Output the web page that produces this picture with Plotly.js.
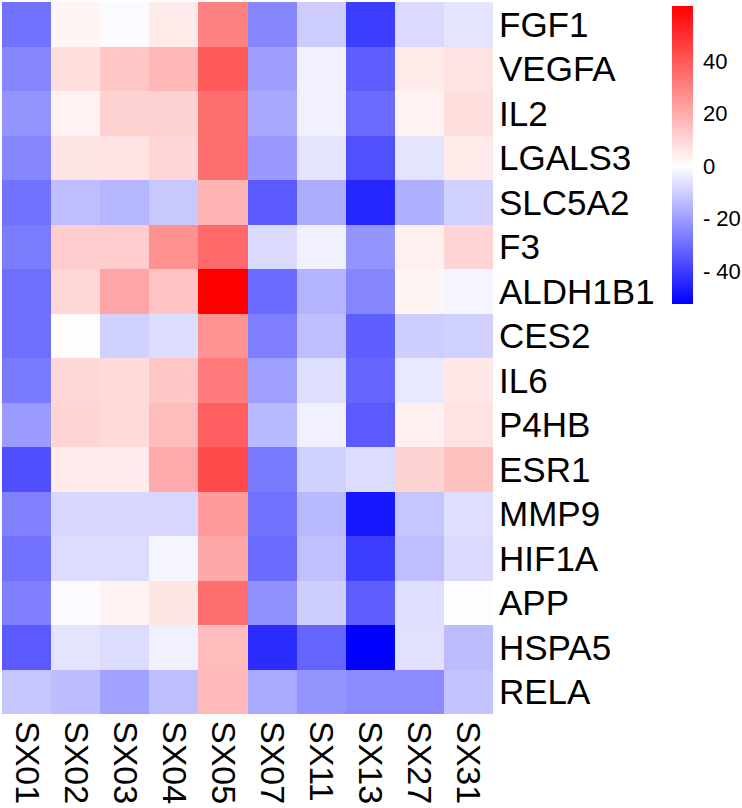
<!DOCTYPE html>
<html>
<head>
<meta charset="utf-8">
<script src="https://cdn.plot.ly/plotly-3.0.1.min.js"></script>
<style>html,body{margin:0;padding:0;background:#fff;}#chart{width:742px;height:808px;}</style>
</head>
<body>
<div id="chart"></div>
<script>
const samples = ["SX01","SX02","SX03","SX04","SX05","SX07","SX11","SX13","SX27","SX31"];
const genes = ["FGF1","VEGFA","IL2","LGALS3","SLC5A2","F3","ALDH1B1","CES2","IL6","P4HB","ESR1","MMP9","HIF1A","APP","HSPA5","RELA"];

const FGF1    = [-29,  2.5, -1,   5,    30,  -25,  -10.5, -40,  -7.7, -5.6];
const VEGFA   = [-25,  8,   13.6, 17,   39.5,-20,  -3,    -33,   5,    7];
const IL2     = [-22,  3,   10.7, 10.7, 34.7,-18,  -3,    -30.5, 3,    8];
const LGALS3  = [-25,  6.5, 7,    10,   34.7,-21,  -5.6,  -36,  -5.6,  5];
const SLC5A2  = [-29, -13.5,-15, -11.4, 18,  -34,  -17,   -44.7,-16.6,-9.4];
const F3      = [-27,  12,  12,   26.3, 36,  -7.7, -3,    -22,   3.6, 10.3];
const ALDH1B1 = [-30,  9.6, 21.5, 14.4, 61,  -30.5,-15.6, -25,   2.4, -2];
const CES2    = [-29.7,0.7, -9.4, -7.3, 26,  -26.4,-13.5, -33,  -10.4,-9.4];
const IL6     = [-27.4,9.6, 8.8,  13.6, 31.8,-19.7,-6.9,  -31.8,-4.8,  5.5];
const P4HB    = [-20.8,10.3,8.8,  16,   38.3,-14.5,-3,    -34,   3.6,  7];
const ESR1    = [-36.4,4.8, 4.8,  20.3, 43,  -27.4,-9.4,  -7.3,  10.8, 15];
const MMP9    = [-26, -8.3, -8.3, -8.3, 24,  -29,  -14.5, -47.8,-11.8,-6.9];
const HIF1A   = [-29, -7.3, -7.3, -2,   20.8,-30.5,-13,   -40,  -13.5,-7.7];
const APP     = [-26.4,-1,  3,    6.5,  34.7,-22.9,-9.8,  -33,  -6.9, -0.5];
const HSPA5   = [-34, -5.6, -7.3, -3,   16,  -43.6,-32,   -53,  -6.2, -13.9];
const RELA    = [-11.8,-13.9,-19.3,-13.5,16.8,-17.7,-22,  -24,  -24,  -12.5];

const colorbarTicks = [40, 20, 0, -20, -40];
const colorbarText = ["40", "20", "0", "- 20", "- 40"];

const z = [FGF1,VEGFA,IL2,LGALS3,SLC5A2,F3,ALDH1B1,CES2,IL6,P4HB,ESR1,MMP9,HIF1A,APP,HSPA5,RELA];
const zmin = -52.6, zmax = 61;
const mid = -zmin / (zmax - zmin);

const trace = {
  type: "heatmap",
  x: samples,
  y: genes,
  z: z,
  zmin: zmin,
  zmax: zmax,
  colorscale: [[0, "rgb(0,0,255)"], [mid, "rgb(255,255,255)"], [1, "rgb(255,0,0)"]],
  xgap: 0, ygap: 0,
  hoverinfo: "x+y+z",
  colorbar: {
    xref: "container", yref: "container",
    x: 672/742, xanchor: "left",
    y: 1 - 7/808, yanchor: "top",
    len: 298, lenmode: "pixels",
    thickness: 21, thicknessmode: "pixels",
    outlinewidth: 0, xpad: 0, ypad: 0,
    tickmode: "array", tickvals: colorbarTicks, ticktext: colorbarText,
    ticks: "outside", ticklen: 6, tickcolor: "rgba(0,0,0,0)",
    tickfont: {family: "Liberation Sans, Arial, sans-serif", size: 22, color: "#000"}
  }
};

const layout = {
  width: 742, height: 808,
  margin: {l: 2, r: 249, t: 2, b: 94, pad: 0},
  paper_bgcolor: "#fff", plot_bgcolor: "#fff",
  font: {family: "Liberation Sans, Arial, sans-serif", color: "#000"},
  xaxis: {
    type: "category", tickangle: 90, ticks: "", showgrid: false, zeroline: false, showline: false,
    ticklabelstandoff: 6,
    tickfont: {size: 34, color: "#000"}, fixedrange: true
  },
  yaxis: {
    type: "category", side: "right", autorange: "reversed", ticks: "", showgrid: false, zeroline: false, showline: false,
    ticklabelstandoff: 5,
    tickfont: {size: 35, color: "#000"}, fixedrange: true
  }
};

Plotly.newPlot("chart", [trace], layout, {displayModeBar: false, staticPlot: true});
</script>
</body>
</html>
